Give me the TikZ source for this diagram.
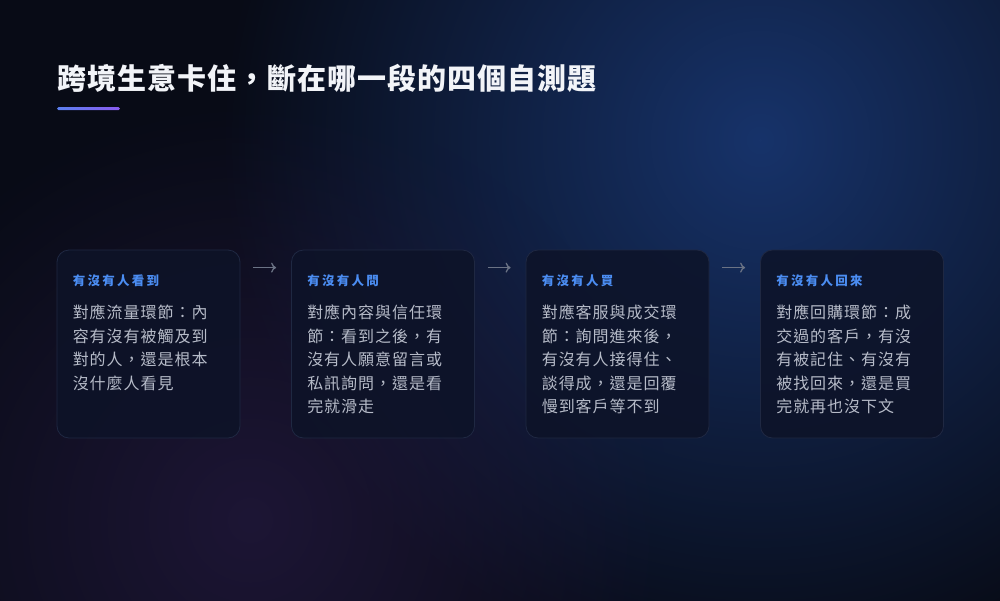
\documentclass[tikz,border=0pt]{standalone}
\usepackage{fontspec}
\setmainfont{Noto Sans CJK TC}
\newfontfamily\titlefont{Noto Sans CJK TC}[LetterSpace=3.5]
\newfontfamily\labfont{Noto Sans CJK TC}[LetterSpace=18]
\newfontfamily\bodyfont{Noto Sans CJK TC}[LetterSpace=6]
\usetikzlibrary{arrows.meta,fadings}
\tikzfading[name=glowfade, inner color=transparent!0, outer color=transparent!100]
\definecolor{bg}{HTML}{080B16}
\definecolor{glowblue}{HTML}{17336A}
\definecolor{glowpurple}{HTML}{261A42}
\definecolor{cardfill}{HTML}{0D1328}
\definecolor{cardline}{HTML}{1F2842}
\definecolor{labblue}{HTML}{4B8DF2}
\definecolor{bodygray}{HTML}{B6BBC8}
\definecolor{titlewhite}{HTML}{F2F4F8}
\definecolor{arrowgray}{HTML}{6B7385}
\definecolor{barA}{HTML}{5A7FEE}
\definecolor{barB}{HTML}{8A5CF0}
\tikzset{
  card/.style={draw=cardline, line width=0.8pt, fill=cardfill, fill opacity=0.85, draw opacity=1,
    rounded corners=12pt, minimum width=183pt, minimum height=188pt, inner sep=0pt},
  lab/.style={text=labblue, font=\labfont\bfseries\fontsize{12.5}{15}\selectfont, inner sep=0pt, anchor=base west},
  body/.style={text=bodygray, font=\bodyfont\fontsize{16}{23.5}\selectfont, inner sep=0pt, align=left, anchor=north west},
  flow/.style={draw=arrowgray, line width=1.3pt, -{To[length=5pt,width=10pt]}}
}
\begin{document}
\begin{tikzpicture}[x=1pt,y=-1pt]
\useasboundingbox (0,0) rectangle (1000,600);
\fill[bg] (-6,-6) rectangle (1006,606);
\begin{scope}
  \clip (-6,-6) rectangle (1006,606);
  \fill[glowblue, path fading=glowfade] (760,140) circle[radius=540pt];
  \fill[glowpurple, path fading=glowfade, opacity=0.7] (250,520) circle[radius=420pt];
\end{scope}
% title
\node[text=titlewhite, font=\titlefont\bfseries\fontsize{29}{34}\selectfont, inner sep=0pt, anchor=base west] (title) at (57,89) {跨境生意卡住，斷在哪一段的四個自測題};
\fill[left color=barA, right color=barB, rounded corners=1.5pt] (57,107) rectangle (120,110);
% cards
\node[card] (c1) at (148.5,344) {};
\node[card] (c2) at (383,344) {};
\node[card] (c3) at (617.5,344) {};
\node[card] (c4) at (852,344) {};
% labels
\node[lab] (l1) at ([shift={(16,36)}]c1.north west) {有沒有人看到};
\node[lab] (l2) at ([shift={(16,36)}]c2.north west) {有沒有人問};
\node[lab] (l3) at ([shift={(16,36)}]c3.north west) {有沒有人買};
\node[lab] (l4) at ([shift={(16,36)}]c4.north west) {有沒有人回來};
% bodies
\node[body] (b1) at ([shift={(16,55)}]c1.north west) {對應流量環節：內\\容有沒有被觸及到\\對的人，還是根本\\沒什麼人看見};
\node[body] (b2) at ([shift={(16,55)}]c2.north west) {對應內容與信任環\\節：看到之後，有\\沒有人願意留言或\\私訊詢問，還是看\\完就滑走};
\node[body] (b3) at ([shift={(16,55)}]c3.north west) {對應客服與成交環\\節：詢問進來後，\\有沒有人接得住、\\談得成，還是回覆\\慢到客戶等不到};
\node[body] (b4) at ([shift={(16,55)}]c4.north west) {對應回購環節：成\\交過的客戶，有沒\\有被記住、有沒有\\被找回來，還是買\\完就再也沒下文};
% arrows
\draw[flow] ([shift={(13,18)}]c1.north east) -- ([shift={(-15,18)}]c2.north west);
\draw[flow] ([shift={(13,18)}]c2.north east) -- ([shift={(-15,18)}]c3.north west);
\draw[flow] ([shift={(13,18)}]c3.north east) -- ([shift={(-15,18)}]c4.north west);
\end{tikzpicture}
\end{document}
